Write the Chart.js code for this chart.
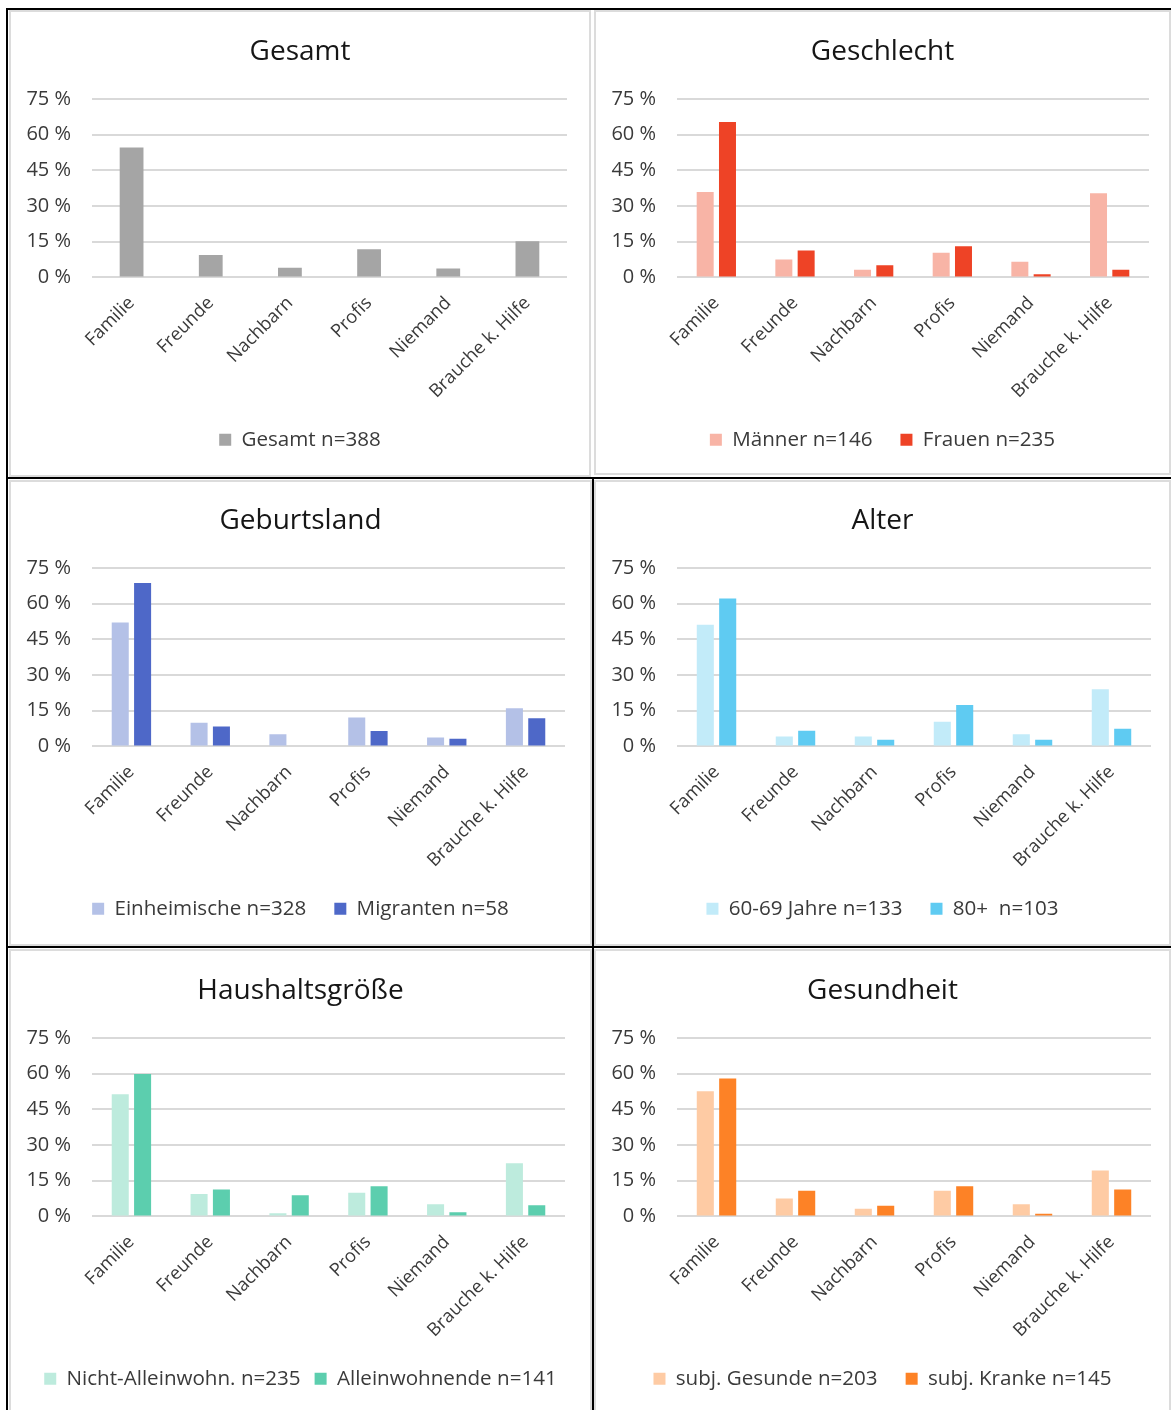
<!DOCTYPE html>
<html>
<head>
<meta charset="utf-8">
<title>Unterstützung im Bedarfsfall</title>
<script src="https://cdn.jsdelivr.net/npm/chart.js@4.4.1/dist/chart.umd.min.js"></script>
<style>
  html, body { margin: 0; padding: 0; background: #fff; }
  body { width: 1171px; height: 1410px; position: relative; overflow: hidden; font-family: "Open Sans", sans-serif; }
  .frame { position: absolute; box-sizing: border-box; border: 2px solid #DCDCDC; }
  .holder { position: absolute; }
  .rule { position: absolute; background: #000; }
</style>
</head>
<body>

<!-- chart frames -->
<div class="frame" style="left:9px;top:10px;width:582px;height:467px"></div>
<div class="frame" style="left:594px;top:10px;width:577px;height:465px"></div>
<div class="frame" style="left:9px;top:480px;width:583px;height:466px"></div>
<div class="frame" style="left:594px;top:480px;width:577px;height:466px"></div>
<div class="frame" style="left:9px;top:949px;width:583px;height:463px"></div>
<div class="frame" style="left:594px;top:949px;width:577px;height:463px"></div>

<!-- chart canvases -->
<div class="holder" style="left:9px;top:10px;width:582px;height:467px"><canvas id="cGesamt"></canvas></div>
<div class="holder" style="left:594px;top:10px;width:577px;height:467px"><canvas id="cGeschlecht"></canvas></div>
<div class="holder" style="left:9px;top:479px;width:583px;height:468px"><canvas id="cGeburtsland"></canvas></div>
<div class="holder" style="left:594px;top:479px;width:577px;height:468px"><canvas id="cAlter"></canvas></div>
<div class="holder" style="left:9px;top:949px;width:583px;height:461px"><canvas id="cHaushalt"></canvas></div>
<div class="holder" style="left:594px;top:949px;width:577px;height:461px"><canvas id="cGesundheit"></canvas></div>

<!-- black table rules -->
<div class="rule" style="left:7px;top:8px;width:1164px;height:2px"></div>
<div class="rule" style="left:6px;top:8px;width:2px;height:1402px"></div>
<div class="rule" style="left:7px;top:477px;width:1164px;height:2px"></div>
<div class="rule" style="left:7px;top:946px;width:1164px;height:2px"></div>
<div class="rule" style="left:592px;top:478px;width:2px;height:932px"></div>

<script>
// Antwortkategorien
const categories = ['Familie', 'Freunde', 'Nachbarn', 'Profis', 'Niemand', 'Brauche k. Hilfe'];
// Y-Achse in Prozent
const yTicks = [0, 15, 30, 45, 60, 75];

// Anteile in %
const gesamt        = [54.6, 9.4, 4.1, 11.8, 3.7, 15.2];
const maenner       = [35.9, 7.5, 3.2, 10.4, 6.6, 35.4];
const frauen        = [65.3, 11.3, 5.1, 13.1, 1.3, 3.2];
const einheimische  = [52.1, 9.9, 5.1, 12.2, 3.7, 16.0];
const migranten     = [68.7, 8.4, 0, 6.5, 3.2, 11.8];
const alter6069     = [51.1, 4.2, 4.2, 10.4, 5.1, 24.0];
const alter80       = [62.2, 6.6, 2.8, 17.4, 2.8, 7.4];
const nichtAllein   = [51.3, 9.4, 1.3, 9.9, 5.1, 22.3];
const alleinwohnend = [59.9, 11.3, 8.9, 12.7, 1.7, 4.7];
const gesunde       = [52.6, 7.5, 3.2, 10.8, 5.1, 19.3];
const kranke        = [58.0, 10.8, 4.5, 12.7, 1.1, 11.3];

Chart.defaults.font.family = '"Open Sans", sans-serif';
Chart.defaults.color = '#404040';

const TEXT = '#3A3A3A';
const TITLE = '#161616';
const GRID = '#D9D9D9';

function ds(label, values, color, barPct) {
  return {
    label: label,
    data: values,
    yAxisID: 'y',
    backgroundColor: color,
    borderWidth: 0,
    categoryPercentage: 0.567,
    barPercentage: barPct
  };
}

function makeChart(id, title, datasets, o) {
  const canvas = document.getElementById(id);
  const h = canvas.parentElement.clientHeight;
  const legendPad = o.legendPad;
  new Chart(canvas, {
    type: 'bar',
    data: { labels: categories, datasets: datasets },
    options: {
      responsive: true,
      maintainAspectRatio: false,
      animation: false,
      events: [],
      layout: { padding: { left: 0, right: 0, top: 0, bottom: h - 450 } },
      plugins: {
        title: {
          display: true,
          text: title,
          color: TITLE,
          font: { size: 28, weight: 'normal' },
          padding: { top: 25.2, bottom: 30.2 }
        },
        legend: {
          position: 'bottom',
          labels: {
            boxWidth: 12,
            boxHeight: 12,
            padding: legendPad,
            color: TEXT,
            font: { size: 20.6 }
          }
        },
        tooltip: { enabled: false }
      },
      scales: {
        x: {
          grid: { display: false },
          border: { display: false },
          ticks: {
            autoSkip: false,
            minRotation: 45,
            maxRotation: 45,
            padding: 7,
            color: TEXT,
            font: { size: 18.3 }
          },
          afterFit: function (s) { s.height = 152 - legendPad; }
        },
        y: {
          position: 'left',
          min: 0,
          max: 75,
          border: { display: false },
          grid: { color: GRID, lineWidth: 2, drawTicks: false },
          ticks: {
            padding: 21,
            color: TEXT,
            font: { size: 20 },
            callback: function (v) { return v + ' %'; }
          },
          afterBuildTicks: function (s) { s.ticks = yTicks.map(function (v) { return { value: v }; }); },
          afterFit: function (s) { s.width = 83; }
        },
        // empty right-hand margin so the title and legend stay centred on the panel
        yR: {
          type: 'linear',
          position: 'right',
          display: true,
          grid: { display: false },
          border: { display: false },
          ticks: { display: false },
          afterFit: function (s) { s.width = o.right; }
        }
      }
    }
  });
}

makeChart('cGesamt', 'Gesamt',
  [ds('Gesamt n=388', gesamt, '#A5A5A5', 0.53)],
  { right: 24, legendPad: 28 });

makeChart('cGeschlecht', 'Geschlecht',
  [ds('Männer n=146', maenner, '#F8B4A6', 0.762),
   ds('Frauen n=235', frauen, '#EE4326', 0.762)],
  { right: 22, legendPad: 28 });

makeChart('cGeburtsland', 'Geburtsland',
  [ds('Einheimische n=328', einheimische, '#B4C1E7', 0.762),
   ds('Migranten n=58', migranten, '#4E68C8', 0.762)],
  { right: 27, legendPad: 28 });

makeChart('cAlter', 'Alter',
  [ds('60-69 Jahre n=133', alter6069, '#C2EBF9', 0.762),
   ds('80+  n=103', alter80, '#5FCBF2', 0.762)],
  { right: 20, legendPad: 28 });

makeChart('cHaushalt', 'Haushaltsgröße',
  [ds('Nicht-Alleinwohn. n=235', nichtAllein, '#BDEBDD', 0.762),
   ds('Alleinwohnende n=141', alleinwohnend, '#5CCEAE', 0.762)],
  { right: 27, legendPad: 14 });

makeChart('cGesundheit', 'Gesundheit',
  [ds('subj. Gesunde n=203', gesunde, '#FECBA4', 0.762),
   ds('subj. Kranke n=145', kranke, '#FD8226', 0.762)],
  { right: 20, legendPad: 28 });
</script>
</body>
</html>
